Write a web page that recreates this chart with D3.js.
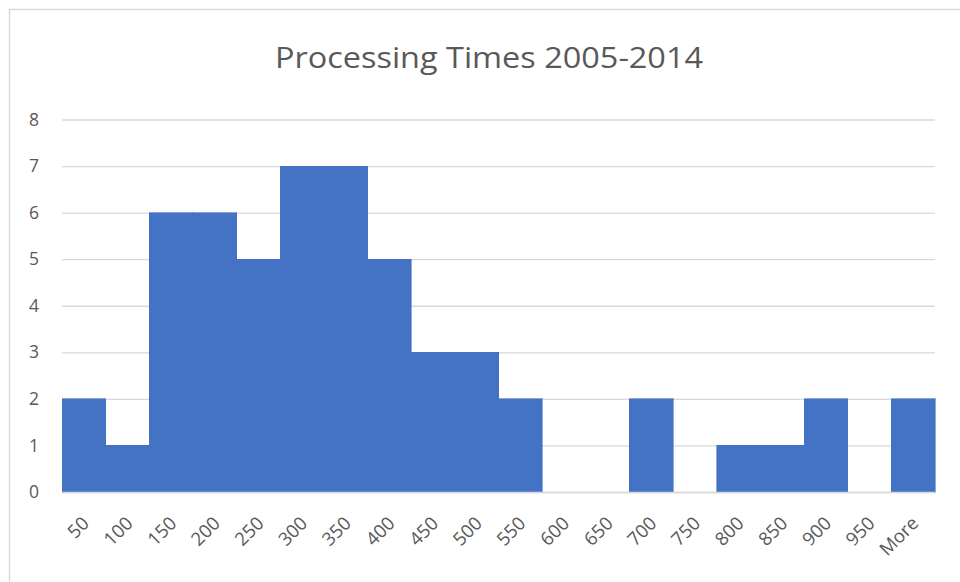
<!DOCTYPE html>
<html>
<head>
<meta charset="utf-8">
<script src="https://cdn.jsdelivr.net/npm/d3@7"></script>
<style>
  html, body { margin: 0; padding: 0; background: #fff; }
  svg { display: block; }
</style>
</head>
<body>
<svg id="chart" width="960" height="582"></svg>
<script>
// Histogram bins (upper bound of each bin) and their frequencies
const bins = ["50", "100", "150", "200", "250", "300", "350", "400", "450", "500",
              "550", "600", "650", "700", "750", "800", "850", "900", "950", "More"];
const frequency = [2, 1, 6, 6, 5, 7, 7, 5, 3, 3, 2, 0, 0, 2, 0, 1, 1, 2, 0, 2];
const yTicks = [0, 1, 2, 3, 4, 5, 6, 7, 8];
const title = "Processing Times 2005-2014";

const width = 960, height = 582;
const margin = { left: 62, right: 25, top: 119.5, bottom: 90 };
const svg = d3.select("#chart");
const textColor = "#595959";
const gridColor = "#d9d9d9";
const barColor = "#4472C4";
const font = "'Open Sans', 'Liberation Sans', sans-serif";

// chart frame
svg.append("path")
  .attr("d", `M9.5,${height} L9.5,9.5 L${width},9.5`)
  .attr("fill", "none")
  .attr("stroke", gridColor)
  .attr("stroke-width", 1.5);

const x = d3.scaleBand()
  .domain(bins)
  .range([margin.left, width - margin.right])
  .padding(0);

const y = d3.scaleLinear()
  .domain([0, 8])
  .range([height - margin.bottom, margin.top]);

// gridlines and y labels
const yAxis = d3.axisLeft(y)
  .tickValues(yTicks)
  .tickSize(-(width - margin.right - margin.left))
  .tickPadding(23)
  .tickFormat(d3.format("d"));

const gy = svg.append("g")
  .attr("transform", `translate(${margin.left},0)`)
  .call(yAxis);
gy.select(".domain").remove();
gy.selectAll(".tick line")
  .attr("stroke", gridColor)
  .attr("stroke-width", 1.3);
gy.selectAll(".tick text")
  .attr("fill", textColor)
  .attr("font-family", font)
  .style("font-size", "17.5px");

// bars (no gaps between adjacent bins)
svg.append("g")
  .attr("shape-rendering", "crispEdges")
  .selectAll("rect")
  .data(frequency)
  .join("rect")
  .attr("x", (d, i) => x(bins[i]))
  .attr("y", d => y(d))
  .attr("width", x.bandwidth())
  .attr("height", d => y(0) - y(d))
  .attr("fill", barColor)
  .attr("stroke", barColor)
  .attr("stroke-width", 0.6);

// category axis line and labels
const xAxis = d3.axisBottom(x).tickSize(0).tickPadding(0);
const gx = svg.append("g")
  .attr("transform", `translate(0,${y(0)})`)
  .call(xAxis);
gx.select(".domain")
  .attr("stroke", gridColor)
  .attr("stroke-width", 1.3);
gx.selectAll(".tick text")
  .attr("fill", textColor)
  .attr("font-family", font)
  .style("font-size", "18.5px")
  .attr("text-anchor", "end")
  .attr("dy", null)
  .attr("y", null)
  .attr("transform", "translate(3,29) rotate(-45)")
  .attr("dominant-baseline", "middle");

// title
svg.append("text")
  .attr("x", 489)
  .attr("y", 68)
  .attr("text-anchor", "middle")
  .attr("fill", textColor)
  .attr("font-family", font)
  .style("font-size", "30px")
  .attr("textLength", 428)
  .attr("lengthAdjust", "spacingAndGlyphs")
  .text(title);
</script>
</body>
</html>
